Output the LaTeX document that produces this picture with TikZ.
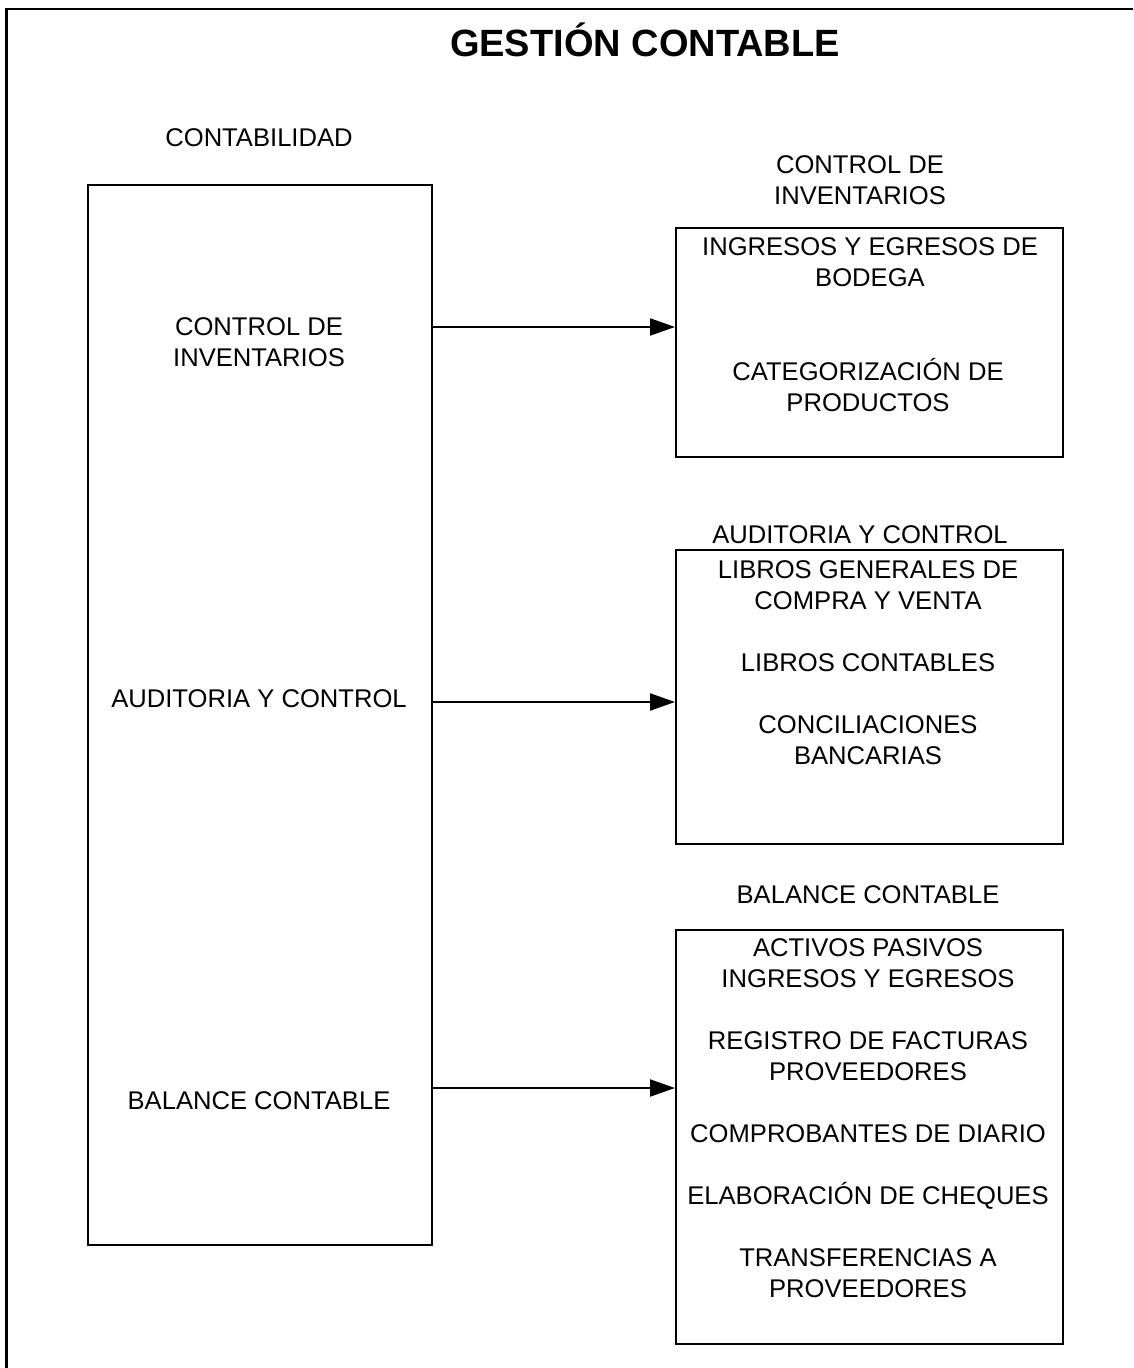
\documentclass[tikz,border=0pt]{standalone}
\usepackage{fontspec}
\setmainfont{Liberation Sans}
\usetikzlibrary{arrows.meta}
\begin{document}
\begin{tikzpicture}[x=0.5pt,y=-0.5pt,
  box/.style={draw,line width=1.2pt,inner sep=0pt,anchor=north west},
  label/.style={font=\fontsize{12.8pt}{15.5pt}\selectfont,align=center,inner sep=0pt},
  title/.style={font=\fontsize{19pt}{22pt}\selectfont\bfseries,inner sep=0pt},
  link/.style={line width=1.1pt,-{Triangle[length=12.5pt,width=8.5pt]}}]
\useasboundingbox (0,0) rectangle (1133,1368);
% frame
\draw[line width=1.1pt] (6.5,1368) -- (6.5,9) -- (1133,9);
\node[title] (t) at (645,40) {GESTIÓN CONTABLE};

% left column
\node[label] (lt) at (259,138) {CONTABILIDAD};
\node[box,minimum width=344*0.5pt,minimum height=1060*0.5pt] (lb) at (87,184) {};
\node[label] (l1) at (259,342) {CONTROL DE\\INVENTARIOS};
\node[label] (l2) at (259,699) {AUDITORIA Y CONTROL};
\node[label] (l3) at (259,1101) {BALANCE CONTABLE};

% right column
\node[label] (r1t) at (860,180) {CONTROL DE\\INVENTARIOS};
\node[box,minimum width=387*0.5pt,minimum height=229*0.5pt] (r1) at (675,227) {};
\node[label] (r1a) at (870,262) {INGRESOS Y EGRESOS DE\\BODEGA};
\node[label] (r1b) at (868,385) {CATEGORIZACIÓN DE\\PRODUCTOS};

\node[label] (r2t) at (860,535) {AUDITORIA Y CONTROL};
\node[box,minimum width=387*0.5pt,minimum height=294*0.5pt] (r2) at (675,549) {};
\node[label] (r2a) at (868,585) {LIBROS GENERALES DE\\COMPRA Y VENTA};
\node[label] (r2b) at (868,663) {LIBROS CONTABLES};
\node[label] (r2c) at (868,740) {CONCILIACIONES\\BANCARIAS};

\node[label] (r3t) at (868,895) {BALANCE CONTABLE};
\node[box,minimum width=387*0.5pt,minimum height=414*0.5pt] (r3) at (675,929) {};
\node[label] (r3a) at (868,963) {ACTIVOS PASIVOS\\INGRESOS Y EGRESOS};
\node[label] (r3b) at (868,1056) {REGISTRO DE FACTURAS\\PROVEEDORES};
\node[label] (r3c) at (868,1134) {COMPROBANTES DE DIARIO};
\node[label] (r3d) at (868,1196) {ELABORACIÓN DE CHEQUES};
\node[label] (r3e) at (868,1273) {TRANSFERENCIAS A\\PROVEEDORES};

% connectors
\coordinate (s1) at (lb.east |- 0,327);
\coordinate (s2) at (lb.east |- 0,702);
\coordinate (s3) at (lb.east |- 0,1088);
\draw[link] (s1) -- (s1 -| r1.west);
\draw[link] (s2) -- (s2 -| r2.west);
\draw[link] (s3) -- (s3 -| r3.west);
\end{tikzpicture}
\end{document}
